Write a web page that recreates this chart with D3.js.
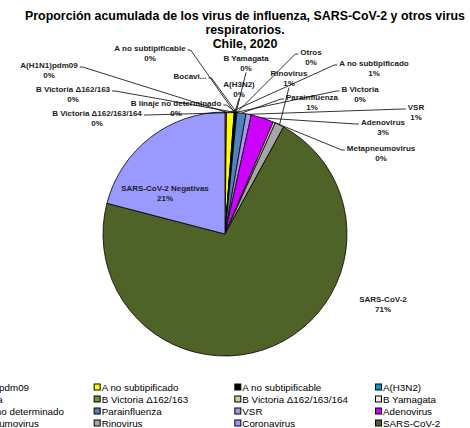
<!DOCTYPE html>
<html>
<head>
<meta charset="utf-8">
<script src="https://cdn.jsdelivr.net/npm/d3@7"></script>
<style>
  body { margin: 0; background: #fff; }
  svg { font-family: "Liberation Sans", Arial, sans-serif; }
</style>
</head>
<body>
<div id="chart"></div>
<script>
// slices, clockwise from 12 o'clock (percent of total)
const categories = ["A(H1N1)pdm09", "A no subtipificado", "A no subtipificable", "A(H3N2)",
  "B Victoria", "B Victoria \u0394162/163", "B Victoria \u0394162/163/164", "B Yamagata",
  "B linaje no determinado", "Bocavirus", "Otros", "Parainfluenza", "VSR", "Adenovirus",
  "Metapneumovirus", "Rinovirus", "Coronavirus", "SARS-CoV-2", "SARS-CoV-2 Negativas"];
const values = [0.2, 1.0, 0.05, 0.1, 0.05, 0.02, 0.02, 0.02, 0.05, 0.02, 0.02,
  1.2, 0.7, 3.0, 0.3, 1.2, 0, 70.9, 20.9];
const colors = ["#ff6600", "#ffff00", "#000000", "#0099cc", "#ffffff", "#77933c", "#c3d69b",
  "#ebf1de", "#ddd9c3", "#c0504d", "#f79646", "#4f81bd", "#a992f0", "#cc00ff",
  "#f2b8b8", "#a6a6a6", "#9999ff", "#4f6228", "#9999ff"];

// legend entries (row by row, 4 columns)
const legendItems = ["A(H1N1)pdm09", "A no subtipificado", "A no subtipificable", "A(H3N2)",
  "B Victoria", "B Victoria \u0394162/163", "B Victoria \u0394162/163/164", "B Yamagata",
  "B linaje no determinado", "Parainfluenza", "VSR", "Adenovirus",
  "Metapneumovirus", "Rinovirus", "Coronavirus", "SARS-CoV-2"];

const titleLines = ["Proporci\u00f3n acumulada de los virus de influenza, SARS-CoV-2 y otros virus",
  "respiratorios.", "Chile, 2020"];

// where each data label sits (centre of first line)
const labelPos = {
  "A(H1N1)pdm09": [49, 65], "A no subtipificado": [374, 63], "A no subtipificable": [150, 48],
  "A(H3N2)": [239, 84], "B Victoria": [360, 89], "B Victoria \u0394162/163": [73, 89],
  "B Victoria \u0394162/163/164": [97, 113], "B Yamagata": [246, 58],
  "B linaje no determinado": [176, 103], "Bocavirus": [190, 76], "Otros": [311, 52],
  "Parainfluenza": [312, 97], "VSR": [416, 107], "Adenovirus": [383, 122],
  "Metapneumovirus": [381, 148], "Rinovirus": [289, 73], "SARS-CoV-2": [383, 299],
  "SARS-CoV-2 Negativas": [165, 188]
};

const width = 470, height = 428;
const cx = 225, cy = 234, radius = 122;

const svg = d3.select("#chart").append("svg")
  .attr("width", width).attr("height", height);

// title
svg.append("text")
  .attr("text-anchor", "middle")
  .attr("font-size", "12.4px").attr("font-weight", "bold")
  .selectAll("tspan").data(titleLines).enter().append("tspan")
  .attr("x", 245).attr("y", (d, i) => 19.5 + i * 14)
  .text(d => d);

const data = categories.map((c, i) => ({ name: c, value: values[i], color: colors[i] }));
const total = d3.sum(values);

const pie = d3.pie().sort(null).value(d => d.value);
const arcs = pie(data);
const arc = d3.arc().innerRadius(0).outerRadius(radius);
const edge = d3.arc().innerRadius(radius).outerRadius(radius);

const g = svg.append("g").attr("transform", `translate(${cx},${cy})`);

g.selectAll("path.slice")
  .data(arcs.filter(d => d.data.value > 0))
  .enter().append("path")
  .attr("class", "slice")
  .attr("d", arc)
  .attr("fill", d => d.data.color)
  .attr("stroke", "#000")
  .attr("stroke-width", 0.8)
  .attr("stroke-linejoin", "round");

// data labels
const fs = 8, lh = 9.5;
const labels = svg.append("g")
  .attr("font-size", fs + "px").attr("font-weight", "bold").attr("fill", "#222");

arcs.forEach(d => {
  const name = d.data.name;
  if (!labelPos[name]) return;
  const [lx, ly] = labelPos[name];
  const pct = Math.round(d.data.value / total * 100) + "%";
  const lines = name === "Bocavirus" ? ["Bocavi..."] : [name, pct];

  const t = labels.append("text").attr("text-anchor", "middle");
  lines.forEach((s, i) => {
    t.append("tspan").attr("x", lx).attr("y", ly + 3 + i * lh).text(s);
  });

  // no leader line for labels sitting on their slice
  if (name === "SARS-CoV-2" || name === "SARS-CoV-2 Negativas") return;

  const w = t.select("tspan").node().getComputedTextLength();
  const p = edge.centroid(d);
  const px = cx + p[0], py = cy + p[1];
  let sx, sy;
  if (px > lx - w / 2 && px < lx + w / 2) {
    sx = lx; sy = ly + (lines.length - 1) * lh + 5;
  } else if (px < lx) {
    sx = lx - w / 2 - 2; sy = ly + 2;
  } else {
    sx = lx + w / 2 + 2; sy = ly + 2;
  }
  const hx = px < lx ? sx - 3 : sx + 3;
  svg.append("polyline")
    .attr("points", px < lx - w / 2 || px > lx + w / 2 ? `${sx},${sy} ${hx},${sy} ${px},${py}` : `${sx},${sy} ${px},${py}`)
    .attr("fill", "none").attr("stroke", "#000").attr("stroke-width", 0.8);
});

// legend (first column runs off the left edge, as in the original)
const colorOf = d3.scaleOrdinal().domain(categories).range(colors);
const colX = d3.scaleLinear().domain([0, 3]).range([-47, 375]);
const rowY = d3.scaleLinear().domain([0, 3]).range([387, 423]);

const leg = svg.append("g").attr("font-size", "9.8px").attr("fill", "#000");
const item = leg.selectAll("g").data(legendItems).enter().append("g")
  .attr("transform", (d, i) => `translate(${colX(i % 4)},${rowY(Math.floor(i / 4))})`);
item.append("rect")
  .attr("x", 0.5).attr("y", -3).attr("width", 6).attr("height", 6)
  .attr("fill", d => colorOf(d)).attr("stroke", "#000").attr("stroke-width", 1);
item.append("text")
  .attr("x", 8).attr("y", 3.5)
  .text(d => d);
</script>
</body>
</html>
